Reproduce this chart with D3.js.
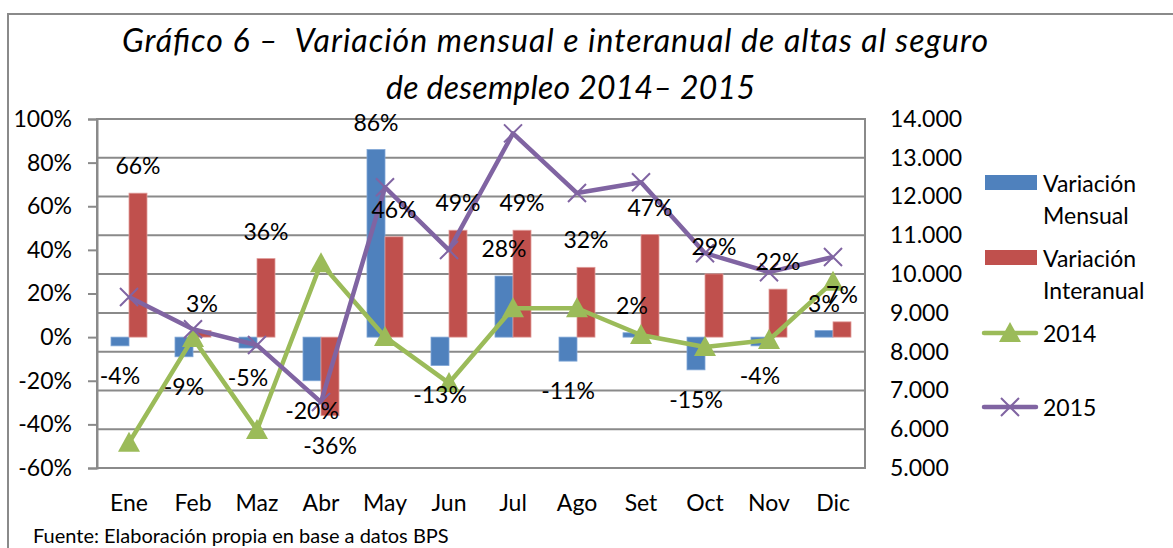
<!DOCTYPE html>
<html><head><meta charset="utf-8">
<script src="https://cdn.jsdelivr.net/npm/d3@7"></script>
<style>
body{margin:0;background:#fff;}
text{font-family:Lato,"Open Sans",sans-serif;fill:#000;}
</style></head>
<body><svg id="c" width="1173" height="548"></svg>
<script>
const categories = ["Ene","Feb","Maz","Abr","May","Jun","Jul","Ago","Set","Oct","Nov","Dic"];
const variacionMensual = [-4,-9,-5,-20,86,-13,28,-11,2,-15,-4,3];
const variacionInteranual = [66,3,36,-36,46,49,49,32,47,29,22,7];
const altas2014 = [5650,8350,5980,10280,8380,7190,9120,9120,8430,8120,8300,9800];
const altas2015 = [9410,8580,8170,6700,12240,10620,13630,12090,12370,10540,10050,10440];
const leftTicks = [-60,-40,-20,0,20,40,60,80,100];
const rightTicks = [5000,6000,7000,8000,9000,10000,11000,12000,13000,14000];
const titleLines = ["Gráfico 6 –  Variación mensual e interanual de altas al seguro","de desempleo 2014– 2015"];
const source = "Fuente: Elaboración propia en base a datos BPS";
const legendItems = [
  {lines:["Variación","Mensual"], type:"bar", color:"#4F81BD"},
  {lines:["Variación","Interanual"], type:"bar", color:"#C0504D"},
  {lines:["2014"], type:"tri", color:"#9BBB59"},
  {lines:["2015"], type:"x", color:"#8064A2"}
];

const svg = d3.select("#c");
const L = 97, R = 865, T = 119, B = 468;
const gray = "#8a8a8a";

// frame
svg.append("path").attr("d","M8,548 V14 H1173").attr("fill","none").attr("stroke",gray).attr("stroke-width",2);

const x = d3.scaleBand().domain(categories).range([L,R]);
const yL = d3.scaleLinear().domain([-60,100]).range([B,T]);
const yR = d3.scaleLinear().domain([5000,14000]).range([B,T]);

// gridlines (from right axis)
svg.append("g").selectAll("line").data(rightTicks).join("line")
  .attr("x1",L).attr("x2",R).attr("y1",d=>yR(d)).attr("y2",d=>yR(d))
  .attr("stroke",gray).attr("stroke-width",2);
// plot border
svg.append("rect").attr("x",L).attr("y",T).attr("width",R-L).attr("height",B-T)
  .attr("fill","none").attr("stroke",gray).attr("stroke-width",2);

// left axis
const gl = svg.append("g").attr("transform",`translate(${L},0)`)
  .call(d3.axisLeft(yL).tickValues(leftTicks).tickFormat(d=>d+"%").tickSize(9).tickPadding(16));
gl.select(".domain").attr("stroke",gray).attr("stroke-width",2);
gl.selectAll(".tick line").attr("stroke",gray).attr("stroke-width",2);
gl.selectAll(".tick text").style("font-size","23px").style("font-family","Lato").attr("fill","#000");

// right axis
const gr = svg.append("g").attr("transform",`translate(${R},0)`)
  .call(d3.axisRight(yR).tickValues(rightTicks).tickFormat(d=>d3.format(",")(d).replace(",",".")).tickSize(0).tickPadding(25));
gr.select(".domain").remove();
gr.selectAll(".tick text").style("font-size","23px").style("font-family","Lato").attr("fill","#000");

// bottom axis labels
const gb = svg.append("g").attr("transform",`translate(0,${B})`)
  .call(d3.axisBottom(x).tickSize(0).tickPadding(27));
gb.select(".domain").remove();
gb.selectAll(".tick text").style("font-size","23px").style("font-family","Lato").attr("fill","#000");

// bars
const bw = 18;
const bars = svg.append("g");
bars.selectAll(".bm").data(variacionMensual).join("rect")
  .attr("x",(d,i)=>x(categories[i])+x.bandwidth()/2-bw)
  .attr("width",bw)
  .attr("y",d=>Math.min(yL(d),yL(0)))
  .attr("height",d=>Math.abs(yL(d)-yL(0)))
  .attr("fill","#4F81BD").attr("stroke","#7FA6D6").attr("stroke-width",0.8);
bars.selectAll(".bi").data(variacionInteranual).join("rect")
  .attr("x",(d,i)=>x(categories[i])+x.bandwidth()/2)
  .attr("width",bw)
  .attr("y",d=>Math.min(yL(d),yL(0)))
  .attr("height",d=>Math.abs(yL(d)-yL(0)))
  .attr("fill","#C0504D").attr("stroke","#E09C9A").attr("stroke-width",0.8);

// lines
const cx = i => x(categories[i]) + x.bandwidth()/2;
const line = d3.line().x((d,i)=>cx(i)).y(d=>yR(d));
svg.append("path").datum(altas2014).attr("d",line).attr("fill","none")
  .attr("stroke","#9BBB59").attr("stroke-width",4.5).attr("stroke-linejoin","round");
svg.append("path").datum(altas2015).attr("d",line).attr("fill","none")
  .attr("stroke","#8064A2").attr("stroke-width",4.5).attr("stroke-linejoin","round");

const triPath = (cxp,cyp,s) => `M${cxp},${cyp-s*0.55} L${cxp+s*0.55},${cyp+s*0.45} L${cxp-s*0.55},${cyp+s*0.45} Z`;
const xPath = (cxp,cyp,s) => `M${cxp-s},${cyp-s} L${cxp+s},${cyp+s} M${cxp-s},${cyp+s} L${cxp+s},${cyp-s}`;

svg.append("g").selectAll("path").data(altas2014).join("path")
  .attr("d",(d,i)=>triPath(cx(i),yR(d),20)).attr("fill","#9BBB59");
svg.append("g").selectAll("path").data(altas2015).join("path")
  .attr("d",(d,i)=>xPath(cx(i),yR(d),9)).attr("fill","none").attr("stroke","#8064A2").attr("stroke-width",2);

// data labels
const lbl = svg.append("g").style("font-size","23px");
lbl.selectAll(".lm").data(variacionMensual).join("text")
  .attr("x",(d,i)=>cx(i)-bw/2)
  .attr("y",d=>yL(d)+(d<0?29:-28))
  .attr("text-anchor","middle").attr("dominant-baseline","central")
  .text(d=>d+"%");
lbl.selectAll(".li").data(variacionInteranual).join("text")
  .attr("x",(d,i)=>cx(i)+bw/2)
  .attr("y",d=>yL(d)+(d<0?29:-28))
  .attr("text-anchor","middle").attr("dominant-baseline","central")
  .text(d=>d+"%");

// title
svg.append("text").attr("x",122).attr("y",52).attr("textLength",866).attr("lengthAdjust","spacing")
  .style("white-space","pre").style("font-size","32px").style("font-style","italic").text(titleLines[0]);
svg.append("text").attr("x",386).attr("y",99).attr("textLength",369).attr("lengthAdjust","spacing")
  .style("white-space","pre").style("font-size","32px").style("font-style","italic").text(titleLines[1]);

// source
svg.append("text").attr("x",33).attr("y",543).style("font-size","20px").text(source);

// legend
const legY = [183,258,333,407];
const lg = svg.append("g");
legendItems.forEach((it,k)=>{
  const yc = legY[k];
  if(it.type==="bar"){
    lg.append("rect").attr("x",985).attr("y",yc-8).attr("width",52).attr("height",15).attr("fill",it.color);
  } else {
    lg.append("line").attr("x1",984).attr("x2",1036).attr("y1",yc).attr("y2",yc)
      .attr("stroke",it.color).attr("stroke-width",4.5).attr("stroke-linecap","round");
    if(it.type==="tri") lg.append("path").attr("d",triPath(1010,yc,20)).attr("fill",it.color);
    else lg.append("path").attr("d",xPath(1010,yc,9)).attr("fill","none").attr("stroke",it.color).attr("stroke-width",2);
  }
  it.lines.forEach((t,j)=>{
    lg.append("text").attr("x",1043).attr("y",yc+j*32).attr("dominant-baseline","central")
      .style("font-size","23px").text(t);
  });
});
</script></body></html>
